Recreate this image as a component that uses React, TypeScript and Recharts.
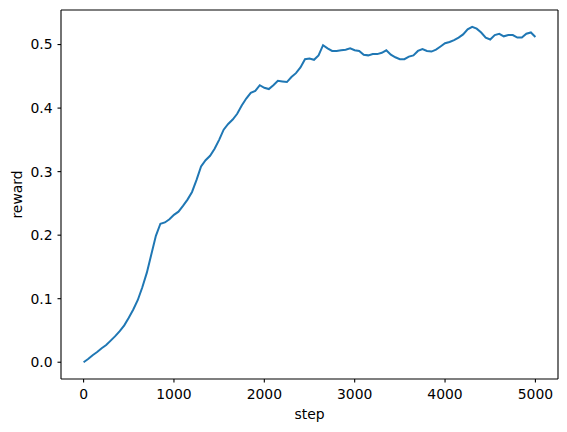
import { LineChart, Line, XAxis, YAxis, ReferenceLine } from 'recharts';

// training curve
const steps = [
  0, 50, 100, 150, 200, 250, 300, 350, 400, 450,
  500, 550, 600, 650, 700, 750, 800, 850, 900, 950,
  1000, 1050, 1100, 1150, 1200, 1250, 1300, 1350, 1400, 1450,
  1500, 1550, 1600, 1650, 1700, 1750, 1800, 1850, 1900, 1950,
  2000, 2050, 2100, 2150, 2200, 2250, 2300, 2350, 2400, 2450,
  2500, 2550, 2600, 2650, 2700, 2750, 2800, 2850, 2900, 2950,
  3000, 3050, 3100, 3150, 3200, 3250, 3300, 3350, 3400, 3450,
  3500, 3550, 3600, 3650, 3700, 3750, 3800, 3850, 3900, 3950,
  4000, 4050, 4100, 4150, 4200, 4250, 4300, 4350, 4400, 4450,
  4500, 4550, 4600, 4650, 4700, 4750, 4800, 4850, 4900, 4950,
  5000,
];

const rewards = [
  0.000, 0.005, 0.011, 0.016, 0.022, 0.027, 0.034, 0.041, 0.049, 0.058,
  0.070, 0.083, 0.098, 0.118, 0.141, 0.170, 0.199, 0.218, 0.220, 0.225,
  0.232, 0.237, 0.246, 0.256, 0.268, 0.287, 0.308, 0.318, 0.325, 0.336,
  0.350, 0.366, 0.375, 0.382, 0.391, 0.404, 0.415, 0.424, 0.427, 0.436,
  0.432, 0.430, 0.436, 0.443, 0.442, 0.441, 0.449, 0.455, 0.464, 0.477,
  0.478, 0.476, 0.483, 0.499, 0.494, 0.490, 0.490, 0.491, 0.492, 0.494,
  0.491, 0.490, 0.484, 0.483, 0.485, 0.485, 0.487, 0.491, 0.484, 0.480,
  0.477, 0.477, 0.481, 0.483, 0.490, 0.493, 0.490, 0.489, 0.492, 0.497,
  0.502, 0.504, 0.507, 0.511, 0.516, 0.524, 0.528, 0.525, 0.519, 0.511,
  0.508, 0.515, 0.517, 0.513, 0.515, 0.515, 0.511, 0.511, 0.517, 0.519,
  0.512,
];

const xTicks = [0, 1000, 2000, 3000, 4000, 5000];
const yTicks = [0, 0.1, 0.2, 0.3, 0.4, 0.5];
const xDomain = [-250, 5250];
const yDomain = [-0.0264, 0.5544];

const data = steps.map((s, i) => ({ step: s, reward: rewards[i] }));

const FONT = '"DejaVu Sans", sans-serif';

const XLabel = ({ viewBox }: any) => (
  <text
    x={viewBox.x + viewBox.width / 2}
    y={419}
    textAnchor="middle"
    fontFamily={FONT}
    fontSize={13.9}
    fill="#000"
  >
    step
  </text>
);

const YLabel = ({ viewBox }: any) => {
  const cx = 17;
  const cy = viewBox.y + viewBox.height / 2;
  return (
    <text
      x={cx}
      y={cy}
      transform={`rotate(-90, ${cx}, ${cy})`}
      textAnchor="middle"
      dominantBaseline="central"
      fontFamily={FONT}
      fontSize={13.9}
      fill="#000"
    >
      reward
    </text>
  );
};

export default function App() {
  const tickStyle = { fontFamily: FONT, fontSize: 13.9, fill: '#000' };
  return (
    <div style={{ position: 'absolute', left: 0, top: 0, background: '#fff' }}>
      <LineChart
        width={567}
        height={432}
        data={data}
        margin={{ top: 10, right: 9, left: 0, bottom: 0 }}
      >
        <XAxis
          dataKey="step"
          type="number"
          domain={xDomain}
          ticks={xTicks}
          allowDataOverflow
          height={53}
          tickSize={3.5}
          tickMargin={7}
          tick={tickStyle}
          stroke="#000"
          tickLine={{ stroke: '#000', strokeWidth: 1.1 }}
          axisLine={{ stroke: '#000', strokeWidth: 1.1 }}
          label={<XLabel />}
        />
        <YAxis
          type="number"
          domain={yDomain}
          ticks={yTicks}
          allowDataOverflow
          width={61}
          tickSize={3.5}
          tickMargin={5}
          tick={tickStyle}
          tickFormatter={(v: number) => v.toFixed(1)}
          stroke="#000"
          tickLine={{ stroke: '#000', strokeWidth: 1.1 }}
          axisLine={{ stroke: '#000', strokeWidth: 1.1 }}
          label={<YLabel />}
        />
        {/* top and right spines of the frame */}
        <ReferenceLine y={yDomain[1]} stroke="#000" strokeWidth={1.1} ifOverflow="visible" />
        <ReferenceLine x={xDomain[1]} stroke="#000" strokeWidth={1.1} ifOverflow="visible" />
        <Line
          type="linear"
          dataKey="reward"
          stroke="#1f77b4"
          strokeWidth={2}
          dot={false}
          activeDot={false}
          isAnimationActive={false}
        />
      </LineChart>
    </div>
  );
}
